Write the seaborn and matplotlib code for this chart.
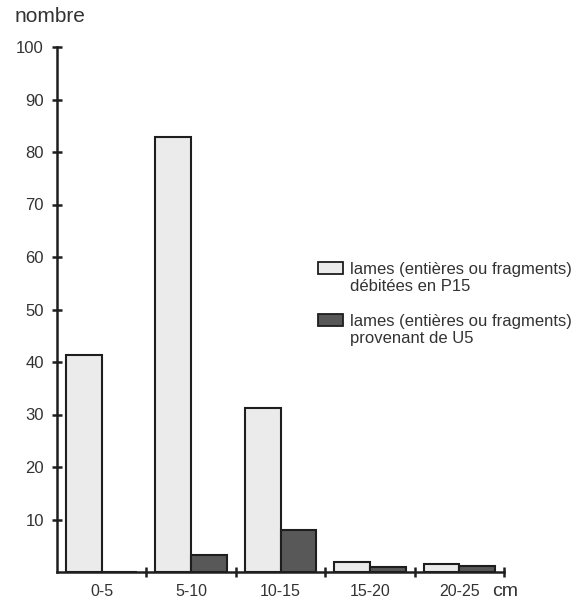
import seaborn as sns
import matplotlib.pyplot as plt
from matplotlib.patches import Rectangle
import pandas as pd

classes = ["0-5", "5-10", "10-15", "15-20", "20-25"]
series = ["P15", "U5"]
p15 = [41.3, 82.8, 31.3, 2.0, 1.6]
u5 = [0.0, 3.2, 8.0, 1.0, 1.2]
legend_labels = ["lames (entières ou fragments)\ndébitées en P15",
                 "lames (entières ou fragments)\nprovenant de U5"]
yticks = [10, 20, 30, 40, 50, 60, 70, 80, 90, 100]

light = "#ebebeb"
dark = "#585858"
ink = "#1e1e1e"
txt = "#333333"

df = pd.DataFrame({
    "classe": classes * 2,
    "nombre": p15 + u5,
    "serie": [series[0]] * len(classes) + [series[1]] * len(classes),
})

sns.set_style("white")
plt.rcParams["font.family"] = ["Liberation Sans", "DejaVu Sans"]

fig = plt.figure(figsize=(5.84, 6.0), dpi=100)
ax = fig.add_axes([57 / 584, 28 / 600, (504 - 57) / 584, (572 - 47) / 600])

sns.barplot(data=df, x="classe", y="nombre", hue="serie", order=classes,
            hue_order=series, palette=[light, dark], edgecolor=ink,
            linewidth=1.5, width=0.8, legend=False, ax=ax)

ax.set_xlim(-0.5, len(classes) - 0.5)
ax.set_ylim(0, 100)
for s in ["top", "right"]:
    ax.spines[s].set_visible(False)
for s in ["left", "bottom"]:
    ax.spines[s].set_linewidth(1.8)
    ax.spines[s].set_color(ink)

ax.set_yticks(yticks)
ax.set_yticklabels([str(v) for v in yticks], fontsize=12, color=txt)
ax.tick_params(axis="y", left=True, direction="inout", length=7, width=1.8,
               color=ink, pad=6)

# category labels at centres, tick marks at group boundaries
ax.set_xticks(range(len(classes)))
ax.set_xticklabels(classes, fontsize=11.5, color=txt)
ax.tick_params(axis="x", which="major", bottom=False, length=0, pad=9)
ax.set_xticks([i + 0.5 for i in range(len(classes))], minor=True)
ax.tick_params(axis="x", which="minor", bottom=True, direction="inout",
               length=7, width=1.8, color=ink)

ax.set_xlabel("")
ax.set_ylabel("")

fig.text(15 / 584, 1 - 17 / 600, "nombre", fontsize=15, color=txt, va="center")
fig.text(492 / 584, 1 - 591 / 600, "cm", fontsize=14, color=txt, va="center")

# legend
for i, (lab, col) in enumerate(zip(legend_labels, [light, dark])):
    top = 262 + i * 52
    fig.patches.append(Rectangle((318 / 584, 1 - (top + 12) / 600), 25 / 584, 12 / 600,
                                 transform=fig.transFigure, facecolor=col,
                                 edgecolor=ink, linewidth=1.3))
    fig.text(350 / 584, 1 - (top + 16) / 600, lab, fontsize=12, color=txt,
             va="center", linespacing=1.1)

fig.savefig("out.png", dpi=100)
